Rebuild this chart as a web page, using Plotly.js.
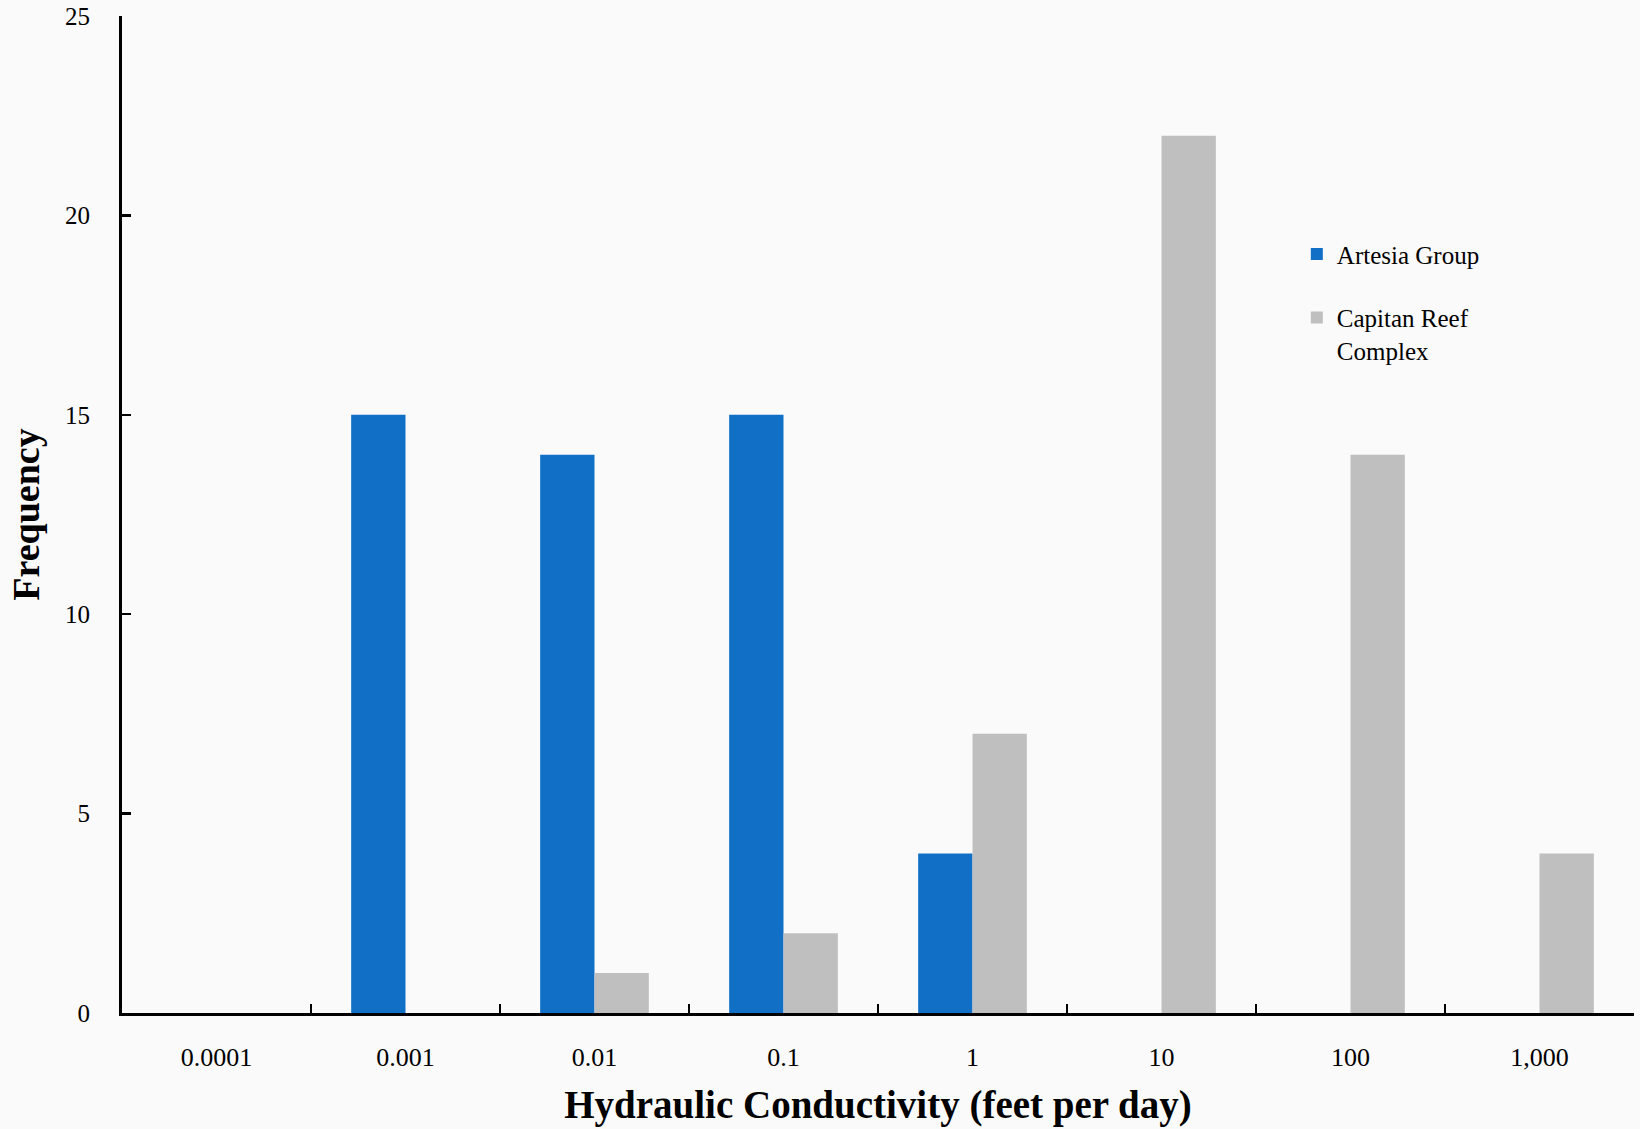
<!DOCTYPE html>
<html>
<head>
<meta charset="utf-8">
<script src="https://cdn.plot.ly/plotly-3.0.1.min.js"></script>
<style>
html,body{margin:0;padding:0;background:#fafafa;}
#chart{width:1640px;height:1129px;}
</style>
</head>
<body>
<div id="chart"></div>
<script>
const categories = ["0.0001", "0.001", "0.01", "0.1", "1", "10", "100", "1,000"];
const artesiaValues = [0, 15, 14, 15, 4, 0, 0, 0];
const capitanValues = [0, 0, 1, 2, 7, 22, 14, 4];
const yTickValues = [0, 5, 10, 15, 20, 25];
const seriesNames = ["Artesia Group", "Capitan Reef<br>Complex"];

const FONT = "Liberation Serif, Times New Roman, serif";

const traces = [
  {
    type: "bar",
    name: seriesNames[0],
    x: categories,
    y: artesiaValues,
    marker: {color: "#1170C6"},
    legendgroup: "a",
    hoverinfo: "x+y+name"
  },
  {
    type: "bar",
    name: seriesNames[1],
    x: categories,
    y: capitanValues,
    marker: {color: "#BFBFBF"},
    legendgroup: "b",
    hoverinfo: "x+y+name"
  }
];

const layout = {
  width: 1640,
  height: 1129,
  paper_bgcolor: "#fafafa",
  plot_bgcolor: "#fafafa",
  margin: {l: 122, r: 6, t: 16, b: 116, pad: 0},
  barmode: "group",
  bargap: 0.425,
  bargroupgap: 0,
  font: {family: FONT, color: "#000", size: 25},
  showlegend: true,
  legend: {
    x: 0.777,
    y: 0.784,
    xanchor: "left",
    yanchor: "top",
    bgcolor: "rgba(0,0,0,0)",
    font: {family: FONT, size: 25, color: "#000"},
    tracegroupgap: 28,
    valign: "top",
    itemwidth: 30
  },
  xaxis: {
    type: "category",
    categoryorder: "array",
    categoryarray: categories,
    range: [-0.5, 7.5],
    showline: true,
    linecolor: "#000",
    linewidth: 3,
    ticks: "inside",
    tickson: "boundaries",
    ticklen: 9,
    tickwidth: 2.5,
    tickcolor: "#000",
    showgrid: false,
    zeroline: false,
    tickfont: {family: FONT, size: 26, color: "#000"},
    ticklabelstandoff: 19,
    title: {
      text: "<b>Hydraulic Conductivity (feet per day)</b>",
      font: {family: FONT, size: 39, color: "#000"},
      standoff: 20
    }
  },
  yaxis: {
    range: [0, 25],
    tickvals: yTickValues,
    showline: true,
    linecolor: "#000",
    linewidth: 3,
    ticks: "inside",
    ticklen: 9,
    tickwidth: 2.5,
    tickcolor: "#000",
    showgrid: false,
    zeroline: false,
    tickfont: {family: FONT, size: 25, color: "#000"},
    ticklabelstandoff: 24,
    title: {
      text: "<b>Frequency</b>",
      font: {family: FONT, size: 38, color: "#000"},
      standoff: 14
    }
  }
};

Plotly.newPlot("chart", traces, layout, {displayModeBar: false, staticPlot: true});
</script>
</body>
</html>
